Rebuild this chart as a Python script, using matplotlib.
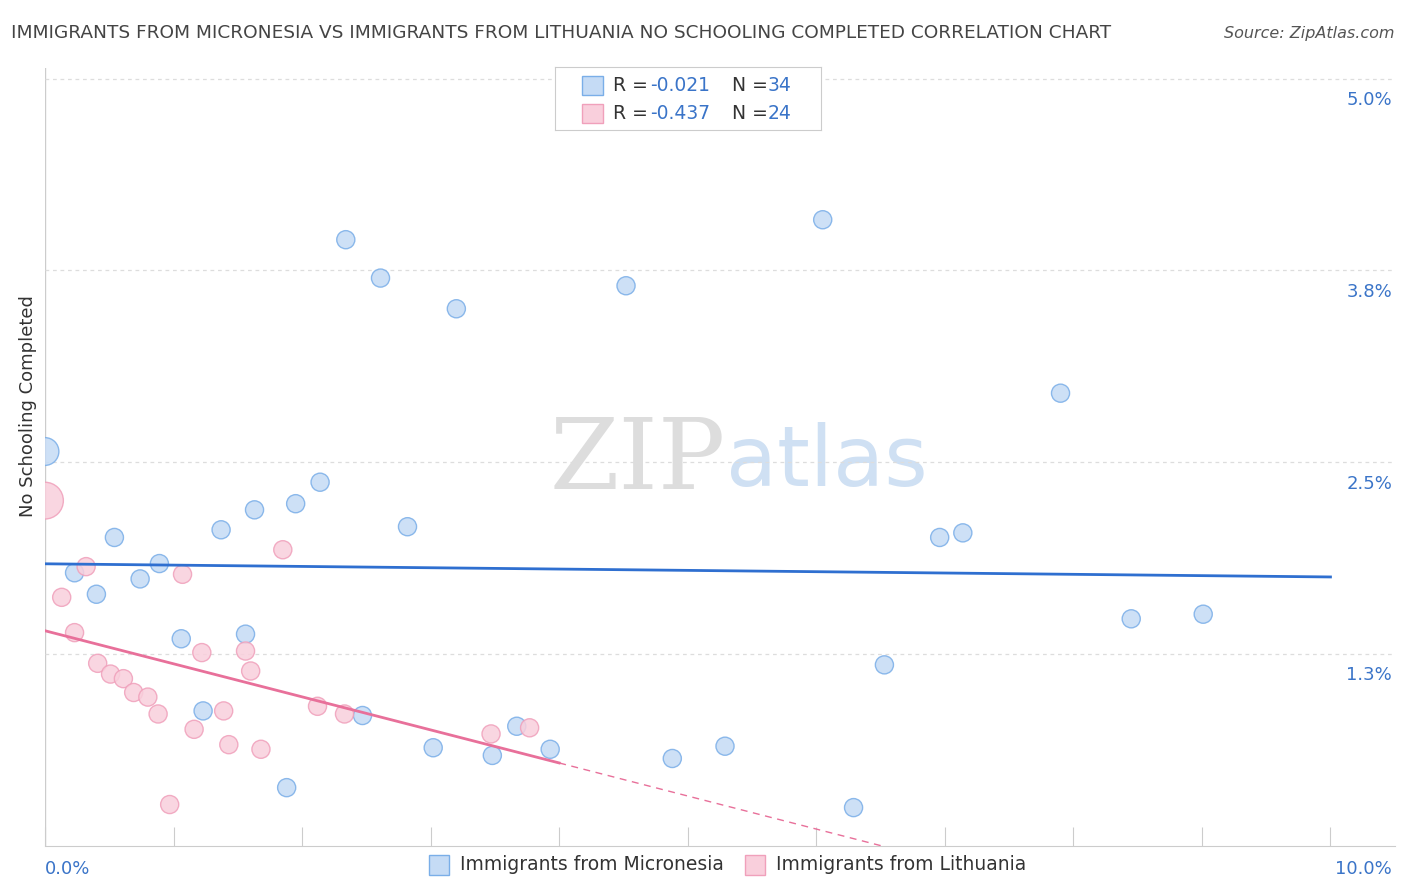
import matplotlib
matplotlib.use("Agg")
import matplotlib.pyplot as plt
import numpy as np

mic_x = [0.0,0.23,0.40,0.54,0.74,0.89,1.06,1.23,1.37,1.56,1.63,1.88,1.95,2.14,2.34,2.47,2.61,2.82,3.02,3.20,3.48,3.67,3.93,4.52,4.88,5.29,6.05,6.29,6.53,6.96,7.14,7.90,8.45,9.01]
mic_y = [2.57,1.78,1.64,2.01,1.74,1.84,1.35,0.88,2.06,1.38,2.19,0.38,2.23,2.37,3.95,0.85,3.70,2.08,0.64,3.50,0.59,0.78,0.63,3.65,0.57,0.65,4.08,0.25,1.18,2.01,2.04,2.95,1.48,1.51]
lit_x = [0.0,0.13,0.32,0.23,0.41,0.51,0.61,0.69,0.80,0.88,0.97,1.07,1.16,1.22,1.39,1.43,1.56,1.60,1.68,1.85,2.12,2.33,3.47,3.77]
lit_y = [2.25,1.62,1.82,1.39,1.19,1.12,1.09,1.00,0.97,0.86,0.27,1.77,0.76,1.26,0.88,0.66,1.27,1.14,0.63,1.93,0.91,0.86,0.73,0.77]
y_ticks = [1.25,2.5,3.75,5.0]
y_labels = ["1.3%","2.5%","3.8%","5.0%"]

blue="#7aaee8"; bfill="#c5dbf5"; pink="#f0a0bb"; pfill="#f9cfdc"
fig = plt.figure(figsize=(14.06,8.92), dpi=100)
ax = fig.add_axes([0.032,0.0516,0.960,0.8724])
ax.set_xlim(0,10.5); ax.set_ylim(0,5.07)
for s in ["top","right","left"]: ax.spines[s].set_visible(False)
ax.spines["bottom"].set_color("#cccccc")
ax.axvline(0,color="#cccccc",lw=1)
ax.set_xticks(np.arange(0,11,1)); ax.set_xticklabels([])
ax.tick_params(axis="x",length=14,color="#cccccc",direction="in")
ax.set_yticks([])
for t,l in zip(y_ticks,y_labels):
    ax.axhline(t,color="#dddddd",lw=0.9,ls=(0,(3,3)))
    ax.text(10.48,t-0.08,l,color="#3a74c8",fontsize=13,ha="right",va="top")
ax.text(0,-0.09,"0.0%",color="#3a74c8",fontsize=13,ha="left",va="top")
ax.text(10.48,-0.09,"10.0%",color="#3a74c8",fontsize=13,ha="right",va="top")

sz_m=[400 if i==0 else 170 for i in range(len(mic_x))]
sz_l=[700 if i==0 else 170 for i in range(len(lit_x))]
ax.scatter(mic_x,mic_y,s=sz_m,c=bfill,edgecolors=blue,linewidths=1,alpha=0.85,zorder=3)
ax.scatter(lit_x,lit_y,s=sz_l,c=pfill,edgecolors=pink,linewidths=1,alpha=0.85,zorder=3)

bm=np.polyfit(mic_x,mic_y,1)
xs=np.array([0,10]); ax.plot(xs,np.polyval(bm,xs),color="#2f6fd0",lw=2,zorder=4)
pm=np.polyfit(lit_x,lit_y,1)
xe=4.0; ax.plot([0,xe],np.polyval(pm,[0,xe]),color="#e8709a",lw=2,zorder=4)
xz=-pm[1]/pm[0]
ax.plot([xe,xz],np.polyval(pm,[xe,xz]),color="#e8709a",lw=1,ls=(0,(5,4)),zorder=4)

ax.text(5.3,2.5,"ZIP",fontsize=72,color="#dddddd",ha="right",va="center",family="DejaVu Serif",zorder=1)
ax.text(5.3,2.5,"atlas",fontsize=60,color="#cfe0f3",ha="left",va="center",zorder=1)

fig.text(0.008,0.963,"IMMIGRANTS FROM MICRONESIA VS IMMIGRANTS FROM LITHUANIA NO SCHOOLING COMPLETED CORRELATION CHART",fontsize=13.3,color="#444444",va="center")
fig.text(0.992,0.963,"Source: ZipAtlas.com",fontsize=11.5,color="#555555",ha="right",va="center",style="italic")
fig.text(0.02,0.545,"No Schooling Completed",fontsize=13,color="#333333",rotation=90,ha="center",va="center")

from matplotlib.patches import Rectangle
lg=fig.add_axes([0.395,0.854,0.189,0.071]); lg.set_xlim(0,1); lg.set_ylim(0,1)
lg.set_xticks([]); lg.set_yticks([])
for s in lg.spines.values(): s.set_color("#cccccc")
rows=[(bfill,blue,"-0.021","34",0.7),(pfill,pink,"-0.437","24",0.27)]
for fc,ec,r,n,yy in rows:
    lg.add_patch(Rectangle((0.1,yy-0.15),0.08,0.3,fc=fc,ec=ec))
    lg.text(0.215,yy,"R =",fontsize=13.5,color="#333333",va="center")
    lg.text(0.355,yy,r,fontsize=13.5,color="#3a74c8",va="center")
    lg.text(0.665,yy,"N =",fontsize=13.5,color="#333333",va="center")
    lg.text(0.80,yy,n,fontsize=13.5,color="#3a74c8",va="center")
for x0,fc,ec,lab in [(0.305,bfill,blue,"Immigrants from Micronesia"),(0.530,pfill,pink,"Immigrants from Lithuania")]:
    fig.patches.append(Rectangle((x0,0.019),0.014,0.022,fc=fc,ec=ec,transform=fig.transFigure,figure=fig))
    fig.text(x0+0.022,0.031,lab,fontsize=13.5,color="#333333",va="center")
fig.savefig("out.png",dpi=100)
